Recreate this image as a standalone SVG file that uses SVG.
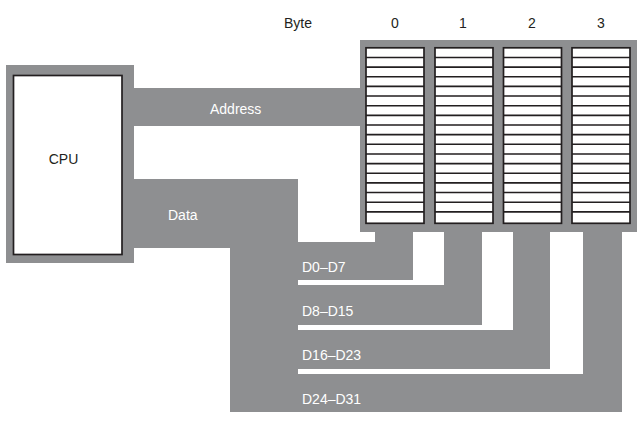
<svg xmlns="http://www.w3.org/2000/svg" width="639" height="421" viewBox="0 0 639 421">
<style>
.bus{fill:#8e8f91}
.box{fill:#ffffff;stroke:#231f20;stroke-width:1.7}
.row{stroke:#231f20;stroke-width:1.6}
.t{font-family:"Liberation Sans",Arial,sans-serif;font-size:14px}
.dk{fill:#231f20}
.wt{fill:#ffffff}
</style>
<g id="connectors">
  <g id="address-bus">
    <rect class="bus" x="130" y="88" width="232" height="38"/>
    <text class="t wt" x="210" y="114">Address</text>
  </g>
  <g id="data-bus">
    <rect class="bus" x="130" y="179" width="168" height="69"/>
    <rect class="bus" x="230" y="179" width="68" height="233"/>
    <rect class="bus" x="230" y="242" width="183" height="38"/>
    <rect class="bus" x="375" y="230" width="38" height="50"/>
    <rect class="bus" x="230" y="285" width="252" height="40"/>
    <rect class="bus" x="444" y="230" width="38" height="95"/>
    <rect class="bus" x="230" y="330" width="320" height="39"/>
    <rect class="bus" x="513" y="230" width="37" height="139"/>
    <rect class="bus" x="230" y="374" width="392" height="38"/>
    <rect class="bus" x="583" y="230" width="39" height="182"/>
    <text class="t wt" x="168" y="220">Data</text>
    <text class="t wt" x="302" y="272">D0–D7</text>
    <text class="t wt" x="302" y="316">D8–D15</text>
    <text class="t wt" x="302" y="360">D16–D23</text>
    <text class="t wt" x="302" y="404">D24–D31</text>
  </g>
</g>
<g id="cpu">
  <rect class="bus" x="6" y="65" width="128" height="198"/>
  <rect class="box" x="13.5" y="75.5" width="108.5" height="179"/>
  <text class="t dk" x="63.5" y="164" text-anchor="middle">CPU</text>
</g>
<g id="memory">
  <rect class="bus" x="360" y="40" width="277" height="192"/>
  <defs>
    <g id="col">
      <rect class="box" x="0" y="47.8" width="58" height="175.5"/>
      <path class="row" d="M0 57.45h58M0 67.1h58M0 76.75h58M0 86.4h58M0 96.05h58M0 105.7h58M0 115.35h58M0 125h58M0 134.65h58M0 144.3h58M0 153.95h58M0 163.6h58M0 173.25h58M0 182.9h58M0 192.55h58M0 202.2h58M0 211.85h58"/>
    </g>
  </defs>
  <use href="#col" x="366"/>
  <use href="#col" x="435"/>
  <use href="#col" x="503.5"/>
  <use href="#col" x="572"/>
  <text class="t dk" x="284" y="28">Byte</text>
  <text class="t dk" x="395" y="28" text-anchor="middle">0</text>
  <text class="t dk" x="463" y="28" text-anchor="middle">1</text>
  <text class="t dk" x="532" y="28" text-anchor="middle">2</text>
  <text class="t dk" x="601" y="28" text-anchor="middle">3</text>
</g>
</svg>
